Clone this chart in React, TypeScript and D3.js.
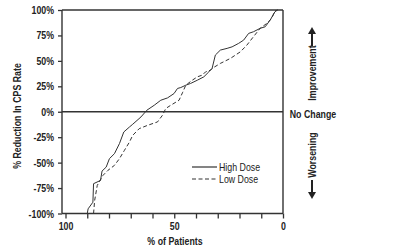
import * as d3 from "d3";
import React, { useEffect, useRef } from "react";

// % of patients (x) vs % reduction in CPS rate (y)
const highDoseX = [90.0, 89.6, 87.4, 87.1, 83.9, 83.2, 81.3, 79.8, 77.5, 75.2, 73.2, 70.6, 69.1, 65.3, 62.6, 59.2, 56.2, 53.1, 50.1, 48.5, 47.0, 44.7, 42.5, 39.4, 36.4, 34.1, 32.6, 31.1, 28.8, 25.7, 23.4, 20.4, 18.1, 15.8, 13.6, 10.5, 8.2, 5.9, 3.7, 2.5];
const highDoseY = [-100, -95.4, -88.9, -70.7, -67.5, -58.3, -54.4, -46.1, -41.2, -31.3, -19.9, -15.0, -12.3, -5.1, 1.5, 6.4, 11.3, 13.6, 17.9, 22.9, 23.8, 26.1, 27.8, 31.0, 34.3, 39.2, 42.6, 55.7, 60.6, 62.3, 63.8, 67.2, 70.4, 77.0, 78.6, 82.0, 83.5, 90.1, 98.3, 100];

const lowDoseX = [87.1, 86.6, 85.4, 82.8, 80.5, 77.5, 75.2, 72.9, 70.6, 69.1, 66.1, 62.2, 57.7, 55.4, 53.9, 51.6, 47.8, 46.1, 44.7, 41.7, 39.4, 37.1, 35.6, 33.3, 32.6, 28.8, 24.2, 19.6, 16.6, 13.6, 10.5, 7.4, 5.2, 3.7, 2.5];
const lowDoseY = [-100, -87.2, -72.4, -62.6, -57.6, -52.7, -46.1, -37.9, -29.8, -23.2, -16.6, -13.3, -10.0, -3.4, 3.2, 6.4, 11.3, 19.2, 26.1, 31.0, 34.3, 36.0, 39.2, 40.9, 42.6, 47.5, 52.4, 58.9, 65.5, 73.7, 82.0, 86.9, 91.8, 99.0, 100];

const yTicks = [100, 75, 50, 25, 0, -25, -50, -75, -100];
const xTicks = [100, 90, 80, 70, 60, 50, 40, 30, 20, 10, 0];
const xTickLabels = ["100", "50", "0"];

const FONT = "'Liberation Sans', Arial, sans-serif";
const INK = "#222";
const SQUEEZE = 0.8; // the original uses a condensed face

const App: React.FC = () => {
  const svgRef = useRef<SVGSVGElement>(null);
  const axRef = useRef<SVGGElement>(null);

  const x = d3.scaleLinear().domain([100, 0]).range([65.5, 283]);
  const y = d3.scaleLinear().domain([-100, 100]).range([213.5, 10]);
  const left = 62;

  const line = d3
    .line<[number, number]>()
    .x((d) => x(d[0]))
    .y((d) => y(d[1]));

  const high = highDoseX.map((v, i) => [v, highDoseY[i]] as [number, number]);
  const low = lowDoseX.map((v, i) => [v, lowDoseY[i]] as [number, number]);

  useEffect(() => {
    if (!axRef.current || !svgRef.current) return;
    const g = d3.select(axRef.current);
    g.selectAll("*").remove();

    const yAxis = d3
      .axisLeft(y)
      .tickValues(yTicks)
      .tickSize(4)
      .tickPadding(4)
      .tickFormat((d) => `${d}%`);
    const ya = g.append("g").attr("transform", `translate(${left},0)`).call(yAxis);

    const xAxis = d3
      .axisBottom(x)
      .tickValues(xTicks)
      .tickSize(5)
      .tickPadding(4)
      .tickFormat((d) => (xTickLabels.includes(String(d)) ? String(d) : ""));
    const xa = g.append("g").attr("transform", `translate(0,${y(-100)})`).call(xAxis);

    [ya, xa].forEach((a) => {
      a.select(".domain").remove();
      a.selectAll(".tick line").attr("stroke", "#333").attr("stroke-width", 1.3);
      a.selectAll(".tick text")
        .attr("fill", INK)
        .attr("class", "narrow")
        .style("font-family", FONT)
        .style("font-weight", "bold")
        .style("font-size", "11px");
    });

    // condense every label
    d3.select(svgRef.current)
      .selectAll<SVGTextElement, unknown>("text.narrow")
      .each(function () {
        const len = this.getComputedTextLength();
        if (len > 0) {
          d3.select(this)
            .attr("textLength", len * SQUEEZE)
            .attr("lengthAdjust", "spacingAndGlyphs");
        }
      });
  }, []);

  return (
    <svg
      ref={svgRef}
      width={400}
      height={252}
      style={{ position: "absolute", left: 0, top: 0, background: "#fff" }}
    >
      {/* frame */}
      <g stroke="#333" strokeWidth={1.4} fill="none">
        <line x1={left} x2={x(0)} y1={y(100)} y2={y(100)} />
        <line x1={left} x2={left} y1={y(100)} y2={y(-100)} />
        <line x1={x(0)} x2={x(0)} y1={y(100)} y2={y(-100)} />
        <line x1={left} x2={x(0)} y1={y(-100)} y2={y(-100)} />
        <line x1={left} x2={x(0)} y1={y(0)} y2={y(0)} />
      </g>
      <g ref={axRef} />

      <path d={line(high) ?? ""} fill="none" stroke="#333" strokeWidth={1} />
      <path d={line(low) ?? ""} fill="none" stroke="#333" strokeWidth={1} strokeDasharray="4,2.5" />

      {/* legend */}
      <g fontFamily={FONT} fontSize={11} fill={INK}>
        <line x1={192} x2={217} y1={167} y2={167} stroke="#333" strokeWidth={1.2} />
        <text className="narrow" x={219} y={170.5}>High Dose</text>
        <line x1={192} x2={217} y1={179} y2={179} stroke="#333" strokeWidth={1.2} strokeDasharray="4,2.5" />
        <text className="narrow" x={219} y={182.5}>Low Dose</text>
      </g>

      {/* axis titles */}
      <g fontFamily={FONT} fontWeight="bold" fontSize={11} fill={INK} textAnchor="middle">
        <text className="narrow" x={175} y={245}>% of Patients</text>
        <text className="narrow" transform="translate(21,116) rotate(-90)">% Reduction In CPS Rate</text>
        <text className="narrow" x={313} y={118}>No Change</text>
        <text className="narrow" transform="translate(316,73) rotate(-90)">Improvement</text>
        <text className="narrow" transform="translate(316,155) rotate(-90)">Worsening</text>
      </g>

      {/* direction arrows */}
      <g fill={INK} stroke={INK}>
        <line x1={312} x2={312} y1={46} y2={33} strokeWidth={2} />
        <path d="M308,34 L316,34 L312,27 Z" stroke="none" />
        <line x1={312} x2={312} y1={180} y2={193} strokeWidth={2} />
        <path d="M308,192 L316,192 L312,199 Z" stroke="none" />
      </g>
    </svg>
  );
};

export default App;
